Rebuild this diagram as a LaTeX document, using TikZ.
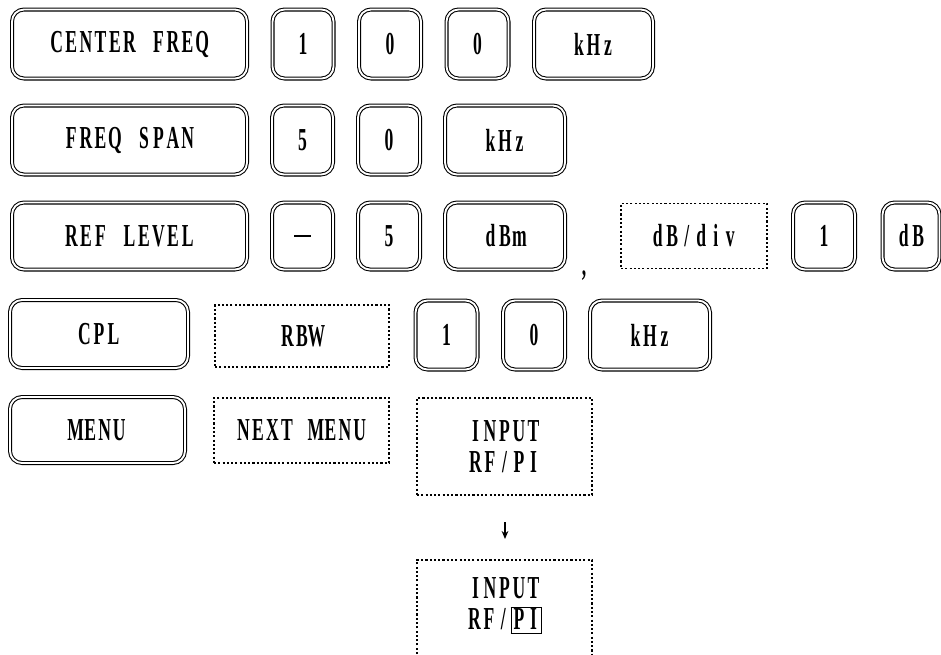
\documentclass[tikz,border=0pt]{standalone}
\usepackage{fontspec}
\setmainfont{Liberation Serif}
\newfontfamily\keyfont[FakeStretch=0.55,UprightFont=* Bold]{Liberation Serif}
\newcommand\keytext{\keyfont\fontsize{24}{28}\selectfont}
\newlength\monowidth
\setlength\monowidth{10.9pt}
\ExplSyntaxOn
\cs_new_protected:Npn \mono #1 { \str_map_inline:nn {#1} { \makebox[\monowidth][c]{##1} } }
\ExplSyntaxOff
\usetikzlibrary{arrows.meta}
\begin{document}
\begin{tikzpicture}[x=0.75pt,y=-0.75pt,
  key/.style={draw, double, double distance=1.4pt, line width=0.8pt, rounded corners=9pt, font=\keytext, inner sep=0pt},
  soft/.style={draw, dash pattern=on 1.6pt off 1.6pt, line width=0.9pt, font=\keytext, inner sep=0pt, align=center},
  softline/.style={dash pattern=on 1.6pt off 1.6pt, line width=0.9pt},
  bw/.style={minimum width=#1*0.75pt},
  bh/.style={minimum height=#1*0.75pt}]
\useasboundingbox (0,0) rectangle (941,654);
% row 1
\node[key,bw=235,bh=69] (cf) at (129.5,44) {\mono{CENTER FREQ}};
\node[key,bw=61,bh=69] (r1a) at (303,44) {\mono{1}};
\node[key,bw=62,bh=69] (r1b) at (390,44) {\mono{0}};
\node[key,bw=62,bh=69] (r1c) at (477.5,44) {\mono{0}};
\node[key,bw=119,bh=69] (r1d) at (593.5,44) {\mono{kHz}};
% row 2
\node[key,bw=235,bh=69] (fs) at (129.5,140) {\mono{FREQ SPAN}};
\node[key,bw=61,bh=69] (r2a) at (302.5,140) {\mono{5}};
\node[key,bw=62,bh=69] (r2b) at (389,140) {\mono{0}};
\node[key,bw=120,bh=69] (r2c) at (505,140) {\mono{kHz}};
% row 3
\node[key,bw=235,bh=67] (rl) at (129.5,236) {\mono{REF LEVEL}};
\node[key,bw=61,bh=67] (r3a) at (302.5,236) {\rule{12.5pt}{1.2pt}};
\node[key,bw=62,bh=67] (r3b) at (389,236) {\mono{5}};
\node[key,bw=120,bh=67] (r3c) at (505,236) {\mono{dBm}};
\node[font=\keytext] (comma) at (584,276) {,};
\node[soft,bw=146,bh=65] (dbdiv) at (694,236) {\mono{dB/div}};
\node[key,bw=62,bh=67] (r3d) at (824,236) {\mono{1}};
\node[key,bw=57,bh=67] (r3e) at (911,236) {\mono{dB}};
% row 4
\node[key,bw=178,bh=68] (cpl) at (99,334) {\mono{CPL}};
\node[soft,bw=174,bh=62] (rbw) at (302,336) {\mono{RBW}};
\node[key,bw=62,bh=69] (r4a) at (446.5,335) {\mono{1}};
\node[key,bw=62,bh=69] (r4b) at (534,335) {\mono{0}};
\node[key,bw=120,bh=69] (r4c) at (650,335) {\mono{kHz}};
% row 5
\node[key,bw=175,bh=66] (menu) at (97.5,430) {\mono{MENU}};
\node[soft,bw=175,bh=65] (next) at (301.5,430.5) {\mono{NEXT MENU}};
\node[soft,bw=175,bh=97] (in1) at (504.5,446.5) {\mono{INPUT}\\[-5pt]\mono{RF/PI}};
% arrow
\coordinate (a1) at (505,522);
\coordinate (a2) at (505,539);
\draw[line width=1pt,-{Stealth[length=6pt,width=5pt]}] (a1) -- (a2);
% bottom open box
\coordinate (b1) at (417,654);
\coordinate (b2) at (417,560);
\coordinate (b3) at (592,560);
\coordinate (b4) at (592,654);
\draw[softline] (b1) -- (b2) -- (b3) -- (b4);
\node[font=\keytext, align=center, inner sep=0pt] (in2) at (504.5,606) {\mono{INPUT}\\[-5pt]\mono{RF/}{\setlength\fboxsep{0pt}\setlength\fboxrule{0.8pt}\fbox{\mono{PI}\rule[-3pt]{0pt}{19pt}}}};
\end{tikzpicture}
\end{document}
